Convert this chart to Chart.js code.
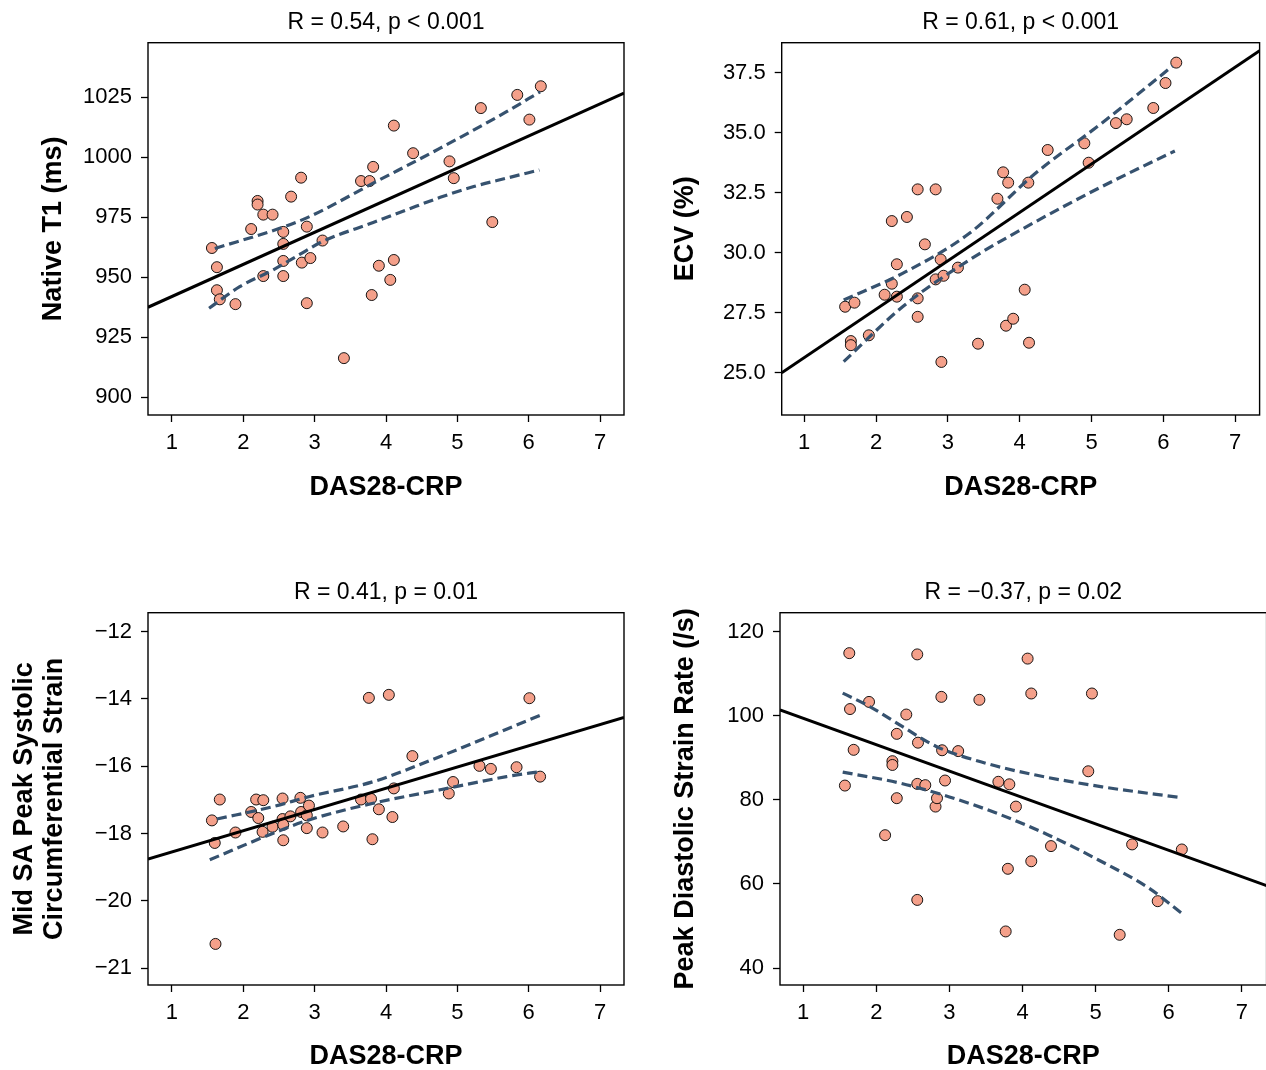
<!DOCTYPE html>
<html>
<head>
<meta charset="utf-8">
<script src="https://cdn.jsdelivr.net/npm/chart.js@4.4.1/dist/chart.umd.min.js"></script>
<style>
  html, body { margin: 0; padding: 0; background: #fff; overflow: hidden; width: 1266px; height: 1070px; }
  canvas { position: absolute; }
</style>
</head>
<body>
<canvas id="c1" width="633" height="535" style="left:0;top:0"></canvas>
<canvas id="c2" width="633" height="535" style="left:633px;top:0"></canvas>
<canvas id="c3" width="633" height="540" style="left:0;top:535px"></canvas>
<canvas id="c4" width="640" height="540" style="left:633px;top:535px"></canvas>
<script>
// DAS28-CRP vs CMR measures - 4 scatter panels

const xTicks = [1, 2, 3, 4, 5, 6, 7]

// Native T1
const das1 = [1.56,1.63,1.63,1.67,1.89,2.11,2.20,2.20,2.28,2.41,2.28,2.56,2.56,2.56,2.56,2.67,2.81,2.82,2.89,2.94,2.89,3.11,3.41,3.65,3.77,3.82,3.80,3.90,4.06,4.11,4.11,4.38,4.89,4.95,5.33,5.49,5.84,6.01,6.17]
const t1 = [962.2,954.2,944.6,940.8,938.8,970.1,981.8,980.3,976.1,976.1,950.5,968.9,963.9,956.8,950.5,983.6,991.5,956.1,971.1,958.0,939.2,965.3,916.3,990.1,990.1,996.0,942.6,954.8,948.9,957.2,1013.2,1001.7,998.3,991.3,1020.5,973.0,1026.0,1015.7,1029.6]
const t1FitX = [0.664, 7.336]
const t1FitY = [937.5, 1026.7]
const t1UpX = [1.60, 2.51, 2.93, 3.82, 4.76, 5.69, 6.16]
const t1UpY = [962.0, 970.4, 975.3, 989.2, 1003.8, 1019.0, 1027.3]
const t1LoX = [1.52, 1.95, 2.42, 2.79, 3.11, 3.82, 4.29, 4.76, 5.23, 5.69, 6.15]
const t1LoY = [937.1, 946.1, 953.1, 959.5, 964.9, 972.8, 978.1, 983.3, 987.8, 991.3, 994.7]
const t1Ticks = [900, 925, 950, 975, 1000, 1025]
const t1Labels = ['900', '925', '950', '975', '1000', '1025']

// ECV
const das2 = [1.57,1.70,1.65,1.65,1.90,2.12,2.22,2.22,2.29,2.29,2.43,2.58,2.58,2.58,2.68,2.83,2.83,2.90,2.94,2.91,3.14,3.42,3.69,3.77,3.84,3.81,3.91,4.07,4.12,4.13,4.39,4.90,4.96,5.34,5.49,5.86,6.03,6.18]
const ecv = [27.75,27.92,26.32,26.15,26.56,28.25,31.32,28.71,29.52,28.17,31.49,32.64,28.10,27.33,30.35,32.64,28.89,29.72,29.04,25.45,29.38,26.21,32.25,33.35,32.92,26.96,27.25,28.46,32.92,26.25,34.28,34.56,33.75,35.40,35.56,36.03,37.07,37.92]
const ecvFitX = [0.687, 7.34]
const ecvFitY = [25.0, 38.42]
const ecvUpX = [1.55, 2.37, 3.30, 4.22, 5.14, 6.13]
const ecvUpY = [28.03, 29.14, 30.81, 33.31, 35.39, 37.78]
const ecvLoX = [1.55, 2.37, 3.30, 4.22, 5.14, 6.16]
const ecvLoY = [25.46, 27.75, 29.70, 31.29, 32.75, 34.24]
const ecvTicks = [25, 27.5, 30, 32.5, 35, 37.5]
const ecvLabels = ['25.0', '27.5', '30.0', '32.5', '35.0', '37.5']

// Mid SA peak systolic circumferential strain
const das3 = [1.56,1.67,1.60,1.61,1.89,2.11,2.18,2.21,2.28,2.27,2.41,2.55,2.55,2.56,2.56,2.66,2.80,2.81,2.89,2.92,2.89,3.11,3.40,3.65,3.76,3.79,3.81,3.90,4.04,4.09,4.11,4.37,4.88,4.94,5.31,5.47,5.83,6.01,6.16]
const strain = [-17.61,-16.99,-18.28,-21.28,-17.97,-17.36,-16.99,-17.54,-17.01,-17.95,-17.80,-16.96,-17.57,-17.74,-18.20,-17.49,-16.94,-17.36,-17.46,-17.17,-17.84,-17.97,-17.79,-16.99,-13.97,-16.97,-18.17,-17.28,-13.88,-17.51,-16.66,-15.70,-16.81,-16.47,-15.99,-16.08,-16.03,-13.98,-16.31]
const strainFitX = [0.664, 7.336]
const strainFitY = [-18.76, -14.55]
const strainUpX = [1.63, 2.42, 2.93, 3.82, 4.76, 5.69, 6.18]
const strainUpY = [-17.57, -17.20, -16.90, -16.46, -15.71, -14.90, -14.47]
const strainLoX = [1.53, 2.42, 2.93, 3.82, 4.76, 5.69, 6.16]
const strainLoY = [-18.78, -17.99, -17.59, -17.10, -16.70, -16.31, -16.16]
const strainTicks = [-22, -20, -18, -16, -14, -12]
const strainLabels = ['−21', '−20', '−18', '−16', '−14', '−12']

// Peak diastolic strain rate
const das4 = [1.63,1.64,1.90,1.69,1.57,2.12,2.22,2.22,2.28,2.28,2.41,2.56,2.57,2.56,2.67,2.56,2.81,2.83,2.89,2.90,2.94,3.12,3.41,3.67,3.82,3.91,3.80,3.77,4.07,4.12,4.12,4.39,4.90,4.95,5.33,5.50,5.85,6.18]
const pdsr = [114.9,101.6,103.3,91.9,83.4,71.6,89.2,88.3,95.7,80.4,100.3,114.6,93.6,83.8,83.5,56.2,78.4,80.4,104.5,91.8,84.6,91.6,103.8,84.3,83.7,78.4,63.6,48.7,113.6,105.3,65.4,69.0,86.8,105.3,47.9,69.4,55.9,68.2]
const pdsrFitX = [0.682, 7.34]
const pdsrFitY = [101.4, 59.6]
const pdsrUpX = [1.54, 1.91, 2.36, 2.82, 3.50, 4.18, 5.09, 6.18]
const pdsrUpY = [105.4, 102.2, 97.4, 92.7, 88.7, 85.9, 83.1, 80.5]
const pdsrLoX = [1.54, 2.32, 3.00, 3.68, 4.36, 5.04, 5.73, 6.18]
const pdsrLoY = [86.6, 84.0, 80.7, 76.6, 71.6, 65.7, 59.0, 53.0]
const pdsrTicks = [40, 60, 80, 100, 120]
const pdsrLabels = ['40', '60', '80', '100', '120']

Chart.defaults.font.family = "'Liberation Sans', Arial, sans-serif"
Chart.defaults.color = '#000'

const zip = (xs, ys) => xs.map((x, i) => ({ x: x, y: ys[i] }))

const boxPlugin = {
    id: 'box',
    afterDatasetsDraw(chart) {
        const { ctx, chartArea: a } = chart
        ctx.save()
        ctx.strokeStyle = '#000'
        ctx.lineWidth = 1.4
        ctx.strokeRect(a.left, a.top, a.right - a.left, a.bottom - a.top)
        ctx.restore()
    }
}

const ciLine = (xs, ys) => ({
    data: zip(xs, ys),
    showLine: true,
    borderColor: '#36526f',
    borderWidth: 3.2,
    borderDash: [10, 5],
    cubicInterpolationMode: 'monotone',
    pointRadius: 0,
    clip: 0,
    order: 0
})

const makePanel = (id, p) => {
    new Chart(document.getElementById(id), {
        type: 'scatter',
        data: {
            datasets: [
                {
                    data: zip(p.x, p.y),
                    pointRadius: 5.5,
                    pointBackgroundColor: '#f4a08a',
                    pointBorderColor: '#000',
                    pointBorderWidth: 0.9,
                    order: 2
                },
                {
                    data: zip(p.fitX, p.fitY),
                    showLine: true,
                    borderColor: '#000',
                    borderWidth: 3,
                    pointRadius: 0,
                    clip: 0,
                    order: 1
                },
                ciLine(p.upX, p.upY),
                ciLine(p.loX, p.loY)
            ]
        },
        options: {
            responsive: false,
            animation: false,
            devicePixelRatio: 1,
            layout: { padding: { left: 0, right: p.padRight, top: 0, bottom: 0 } },
            plugins: {
                legend: { display: false },
                tooltip: { enabled: false },
                title: {
                    display: true,
                    fullSize: false,
                    text: p.title,
                    color: '#000',
                    font: { size: 23, weight: 'normal' },
                    padding: p.titlePad
                }
            },
            scales: {
                x: {
                    type: 'linear',
                    min: p.xMin,
                    max: p.xMax,
                    afterBuildTicks: s => { s.ticks = xTicks.map(v => ({ value: v })) },
                    afterFit: s => { s.height = p.xH },
                    ticks: { font: { size: 22 }, padding: 8, maxRotation: 0, autoSkip: false },
                    grid: { drawOnChartArea: false, tickLength: 7, tickColor: '#000', tickWidth: 1.3 },
                    border: { display: false },
                    title: {
                        display: true,
                        text: 'DAS28-CRP',
                        font: { size: 27, weight: 'bold' },
                        padding: { top: 0, bottom: p.xTitlePad }
                    }
                },
                y: {
                    type: 'linear',
                    min: p.yMin,
                    max: p.yMax,
                    afterBuildTicks: s => { s.ticks = p.ticks.map(v => ({ value: v })) },
                    afterFit: s => { s.width = p.yW },
                    ticks: {
                        font: { size: 22 },
                        padding: 9,
                        autoSkip: false,
                        callback: v => p.labels[p.ticks.indexOf(v)]
                    },
                    grid: { drawOnChartArea: false, tickLength: 7, tickColor: '#000', tickWidth: 1.3 },
                    border: { display: false },
                    title: {
                        display: true,
                        text: p.yTitle,
                        font: { size: 27, weight: 'bold', lineHeight: 1.11 },
                        padding: { top: p.yTitlePad, bottom: 0 }
                    }
                }
            }
        },
        plugins: [boxPlugin]
    })
}

makePanel('c1', {
    x: das1, y: t1, fitX: t1FitX, fitY: t1FitY, upX: t1UpX, upY: t1UpY, loX: t1LoX, loY: t1LoY,
    ticks: t1Ticks, labels: t1Labels,
    xMin: 0.664, xMax: 7.336, yMin: 892.6, yMax: 1047.75,
    title: 'R = 0.54, p < 0.001', yTitle: 'Native T1 (ms)',
    yW: 148, padRight: 9, xH: 120, titlePad: { top: 8.7, bottom: 6.4 }, xTitlePad: 30.8, yTitlePad: 39
})

makePanel('c2', {
    x: das2, y: ecv, fitX: ecvFitX, fitY: ecvFitY, upX: ecvUpX, upY: ecvUpY, loX: ecvLoX, loY: ecvLoY,
    ticks: ecvTicks, labels: ecvLabels,
    xMin: 0.687, xMax: 7.34, yMin: 23.24, yMax: 38.75,
    title: 'R = 0.61, p < 0.001', yTitle: 'ECV (%)',
    yW: 148.7, padRight: 3.7, xH: 120, titlePad: { top: 8.7, bottom: 6.4 }, xTitlePad: 30.8, yTitlePad: 38
})

makePanel('c3', {
    x: das3, y: strain, fitX: strainFitX, fitY: strainFitY, upX: strainUpX, upY: strainUpY, loX: strainLoX, loY: strainLoY,
    ticks: strainTicks, labels: strainLabels,
    xMin: 0.664, xMax: 7.336, yMin: -22.5, yMax: -11.44,
    title: 'R = 0.41, p = 0.01', yTitle: ['Mid SA Peak Systolic', 'Circumferential Strain'],
    yW: 148, padRight: 9, xH: 90, titlePad: { top: 44.2, bottom: 5.9 }, xTitlePad: 1.8, yTitlePad: 10
})

makePanel('c4', {
    x: das4, y: pdsr, fitX: pdsrFitX, fitY: pdsrFitY, upX: pdsrUpX, upY: pdsrUpY, loX: pdsrLoX, loY: pdsrLoY,
    ticks: pdsrTicks, labels: pdsrLabels,
    xMin: 0.682, xMax: 7.34, yMin: 35.96, yMax: 124.52,
    title: 'R = −0.37, p = 0.02', yTitle: 'Peak Diastolic Strain Rate (/s)',
    yW: 147, padRight: 4.8, xH: 90, titlePad: { top: 44.2, bottom: 5.9 }, xTitlePad: 1.8, yTitlePad: 38
})
</script>
</body>
</html>
